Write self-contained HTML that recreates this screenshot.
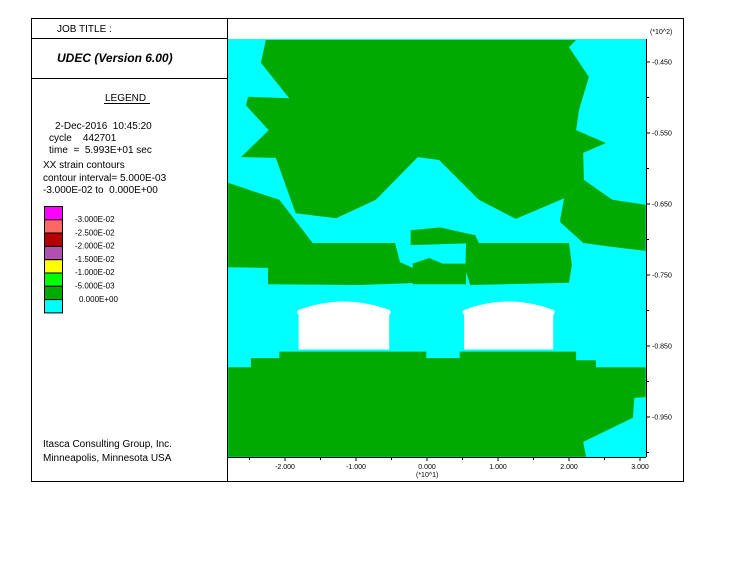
<!DOCTYPE html>
<html><head><meta charset="utf-8"><style>
body{margin:0;background:#fff;width:750px;height:564px;overflow:hidden;font-family:"Liberation Sans",sans-serif}
svg{position:absolute;left:0;top:0}
</style></head><body>
<svg width="750" height="564" font-family="Liberation Sans, sans-serif">
<rect x="31.5" y="18.5" width="652" height="463" fill="none" stroke="#000"/>
<line x1="227.5" y1="18" x2="227.5" y2="482" stroke="#000"/>
<line x1="31" y1="38.5" x2="227" y2="38.5" stroke="#000"/>
<line x1="31" y1="78.5" x2="227" y2="78.5" stroke="#000"/>
<text x="57" y="32" font-size="10">JOB TITLE :</text>
<text x="57" y="62" font-size="12" font-weight="bold" font-style="italic">UDEC (Version 6.00)</text>
<text x="105" y="101" font-size="10">LEGEND</text>
<line x1="104" y1="103.5" x2="150" y2="103.5" stroke="#000"/>
<g font-size="10">
<text x="55" y="129" xml:space="preserve">2-Dec-2016  10:45:20</text>
<text x="49" y="141" xml:space="preserve">cycle    442701</text>
<text x="49" y="153" xml:space="preserve">time  =  5.993E+01 sec</text>
<text x="43" y="168">XX strain contours</text>
<text x="43" y="181">contour interval= 5.000E-03</text>
<text x="43" y="193" xml:space="preserve">-3.000E-02 to  0.000E+00</text>
</g>
<g id="legend"></g>
<text x="43" y="447" font-size="10">Itasca Consulting Group, Inc.</text>
<text x="43" y="461" font-size="10">Minneapolis, Minnesota  USA</text>
<defs><clipPath id="pc"><rect x="228" y="39" width="418" height="418"/></clipPath></defs>
<g id="plot" clip-path="url(#pc)"></g>
<g id="axes" font-size="7"></g>
<text x="650" y="34" font-size="7">(*10^2)</text>
<text x="416" y="477" font-size="7">(*10^1)</text>
</svg>
<script>
const legendColors=["#ff00ff","#ff6666","#b40000","#b050b0","#ffff00","#00ff00","#00aa00","#00ffff"];
const legendLabels=["-3.000E-02","-2.500E-02","-2.000E-02","-1.500E-02","-1.000E-02","-5.000E-03","0.000E+00"];
const xTicks=[-2,-1,0,1,2,3];
const xTickLabels=["-2.000","-1.000","0.000","1.000","2.000","3.000"];
const yTicks=[-0.45,-0.55,-0.65,-0.75,-0.85,-0.95];
const yTickLabels=["-0.450","-0.550","-0.650","-0.750","-0.850","-0.950"];
const greenRegions=[
[[-22.7,-41.9],[-23.4,-45.1],[-19.4,-50.1],[-25.2,-49.9],[-25.5,-51.1],[-22.3,-54.6],[-26.2,-58.4],[-21.3,-58.5],[-18.5,-66.3],[-12.8,-67.0],[-7.2,-64.4],[-1.3,-58.4],[1.7,-58.8],[7.3,-64.4],[12.5,-67.1],[19.3,-64.2],[22.1,-61.6],[22.0,-57.8],[25.2,-56.4],[21.0,-54.6],[21.4,-51.8],[22.8,-47.1],[20.0,-42.9],[21.0,-41.9]],
[[-28.0,-62.0],[-25.1,-63.0],[-20.8,-64.4],[-16.1,-70.5],[-4.5,-70.5],[-3.8,-73.2],[-1.3,-74.3],[-1.0,-76.1],[-9.4,-76.4],[-22.4,-76.3],[-22.4,-74.0],[-28.0,-73.9]],
[[-2.3,-68.7],[1.8,-68.3],[6.8,-69.4],[7.3,-70.5],[-2.3,-70.8]],
[[5.5,-70.5],[20.0,-70.5],[20.4,-73.6],[20.0,-76.1],[6.1,-76.4],[5.4,-74.3]],
[[-2.0,-73.4],[0.3,-72.6],[2.2,-73.4],[5.5,-73.4],[5.5,-76.3],[-2.0,-76.3]],
[[19.3,-64.2],[22.1,-61.6],[26.1,-64.4],[30.8,-65.1],[30.8,-71.6],[25.8,-71.0],[22.0,-70.5],[18.7,-67.5]],
[[-28.0,-88.0],[-24.8,-88.0],[-24.8,-86.7],[-20.8,-86.7],[-20.8,-85.8],[-0.1,-85.8],[-0.1,-86.7],[4.6,-86.7],[4.6,-85.8],[21.0,-85.8],[21.0,-87.0],[23.8,-87.0],[23.8,-88.0],[30.8,-88.0],[30.8,-92.2],[29.2,-92.3],[29.0,-95.1],[22.0,-98.5],[22.4,-100.6],[-28.0,-100.6]]
];
const openings=[[-18.5,-4.9],[4.8,18.2]];
const openingY=[-78.1,-80.2,-85.5];
const NS="http://www.w3.org/2000/svg";
const sx=v=>427+v*7.1, sy=v=>62+(-45-v)*7.1;
function mk(t,a,p){const e=document.createElementNS(NS,t);for(const k in a)e.setAttribute(k,a[k]);p.appendChild(e);return e;}
const plot=document.getElementById('plot');
let bg=mk('rect',{x:228,y:39,width:418,height:418,fill:'#00ffff'},plot);


greenRegions.forEach(r=>{
 const p=mk('polygon',{points:r.map(q=>sx(q[0])+','+sy(q[1])).join(' '),fill:'#00aa00'},plot);
 
 
});
openings.forEach(o=>{
 const x1=sx(o[0]),x2=sx(o[1]),yt=sy(openingY[0]),ys=sy(openingY[1]),yb=sy(openingY[2]);
 const d=`M${x1+3},${yb} L${x1+3},${ys+3} Q${x1},${ys} ${x1+3},${ys-2} Q${(x1+x2)/2},${yt-4} ${x2-3},${ys-2} Q${x2},${ys} ${x2-3},${ys+3} L${x2-3},${yb} Z`;
 const p=mk('path',{d:d,fill:'#fff'},plot);
 
 
});
const lg=document.getElementById('legend');
legendColors.forEach((c,i)=>{
 const r=mk('rect',{x:44.5,y:206.5+i*13.3,width:18,height:13.3,fill:c,stroke:'#000','stroke-width':1},lg);
 
 
});
legendLabels.forEach((l,i)=>{
 const t=mk('text',{x:i==6?79:75,y:222+i*13.3,'font-size':8},lg);t.textContent=l;
 
 
});
const ax=document.getElementById('axes');
mk('line',{x1:228,y1:457.5,x2:646,y2:457.5,stroke:'#000'},ax);
mk('line',{x1:646.5,y1:39,x2:646.5,y2:457,stroke:'#000'},ax);
xTicks.forEach((v,i)=>{
 mk('line',{x1:sx(v*10),y1:457,x2:sx(v*10),y2:461,stroke:'#000'},ax);
 mk('line',{x1:sx(v*10-5),y1:457,x2:sx(v*10-5),y2:460,stroke:'#000'},ax);
 const t=mk('text',{x:sx(v*10),y:469,'text-anchor':'middle'},ax);t.textContent=xTickLabels[i];
 
 
});
yTicks.forEach((v,i)=>{
 mk('line',{x1:646,y1:sy(v*100),x2:650,y2:sy(v*100),stroke:'#000'},ax);
 mk('line',{x1:646,y1:sy(v*100-5),x2:649,y2:sy(v*100-5),stroke:'#000'},ax);
 const t=mk('text',{x:652,y:sy(v*100)+2.5},ax);t.textContent=yTickLabels[i];
 
 
});
</script>
</body></html>
